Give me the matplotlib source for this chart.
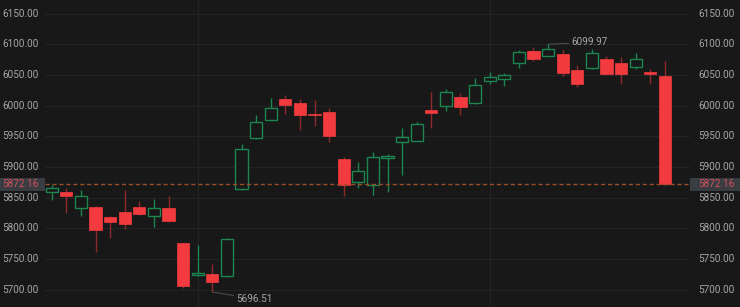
import matplotlib
matplotlib.use("Agg")
import matplotlib.pyplot as plt
from matplotlib.patches import Rectangle

# Candle data (index order left to right)
opens = [5859, 5859, 5833, 5835, 5818, 5827, 5835, 5820, 5833, 5777,
         5724, 5726, 5722, 5864, 5947, 5977, 6010, 6005, 5986, 5990,
         5913, 5875, 5871, 5915, 5941, 5943, 5993, 6000, 6014, 6004,
         6040, 6043, 6069, 6089, 6081, 6084, 6058, 6061, 6076, 6069,
         6063, 6054, 6048]
highs = [5871, 5866, 5863, 5837, 5820, 5863, 5844, 5848, 5852, 5777,
         5773, 5742, 5784, 5937, 5985, 6013, 6017, 6011, 6009, 5996,
         5917, 5908, 5924, 5921, 5964, 5974, 6022, 6027, 6020, 6045,
         6054, 6053, 6091, 6095, 6099.97, 6090, 6066, 6093, 6080, 6079,
         6086, 6059, 6073]
lows = [5847, 5825, 5821, 5762, 5784, 5799, 5822, 5802, 5810, 5703,
        5722, 5696.51, 5721, 5863, 5946, 5976, 5986, 5960, 5966, 5941,
        5852, 5865, 5855, 5860, 5887, 5942, 5964, 5992, 5985, 6003,
        6036, 6032, 6062, 6073, 6080, 6048, 6030, 6060, 6050, 6035,
        6059, 6036, 5870]
closes = [5866, 5853, 5852, 5797, 5810, 5807, 5823, 5833, 5812, 5706,
          5728, 5712, 5783, 5929, 5974, 5996, 6001, 5984, 5984, 5950,
          5870, 5894, 5917, 5918, 5949, 5970, 5988, 6022, 5998, 6033,
          6047, 6050, 6087, 6076, 6092, 6053, 6035, 6085, 6052, 6052,
          6076, 6051, 5872.16]
last_price = 5872.16
yticks = [5700, 5750, 5800, 5850, 5900, 5950, 6000, 6050, 6100, 6150]
vgrid_idx = [10, 30]
hi_label_idx = 34
lo_label_idx = 11

plt.rcParams['font.family'] = ['Roboto', 'DejaVu Sans']

BG = "#181818"
GRID = "#242426"
RED = "#f23b3f"
RED_WICK = "#8e2a2e"
GREEN = "#1d8550"
TXT = "#a4a6aa"
FS = 7.2

W, H = 740, 307
fig = plt.figure(figsize=(W / 100, H / 100), dpi=100, facecolor=BG)
ax = fig.add_axes([45 / W, 0, 645 / W, 1])
ax.set_facecolor(BG)
ax.set_xlim(-0.46, 43.72)
ax.set_ylim(5672, 6172)
for s in ax.spines.values():
    s.set_visible(False)
ax.set_xticks([])
ax.set_yticks([])

for v in yticks:
    ax.axhline(v, color=GRID, lw=0.8, zorder=0)
for i in vgrid_idx:
    ax.axvline(i, color=GRID, lw=0.8, zorder=0)

bw = 0.84
for i, (o, h, l, c) in enumerate(zip(opens, highs, lows, closes)):
    up = c >= o
    bot, top = min(o, c), max(o, c)
    if up:
        ax.vlines(i, l, bot, color=GREEN, lw=1, zorder=2)
        ax.vlines(i, top, h, color=GREEN, lw=1, zorder=2)
        ax.add_patch(Rectangle((i - bw / 2, bot), bw, max(top - bot, 0.8),
                               facecolor=BG, edgecolor=GREEN, lw=1, zorder=3))
    else:
        ax.vlines(i, l, h, color=RED_WICK, lw=1, zorder=2)
        ax.add_patch(Rectangle((i - bw / 2, bot), bw, max(top - bot, 1.5),
                               facecolor=RED, edgecolor=RED, lw=0.5, zorder=3))

ax.axhline(last_price, color="#9a4e28", lw=1, ls=(0, (3, 2)), zorder=4)

# high / low annotations
hi = highs[hi_label_idx]
ax.annotate(f"{hi:.2f}", xy=(hi_label_idx, hi), xytext=(hi_label_idx + 1.6, 6103),
            color=TXT, fontsize=FS, va="center", ha="left",
            arrowprops=dict(arrowstyle="-", color="#505257", lw=0.7,
                            shrinkA=0, shrinkB=0))
lo = lows[lo_label_idx]
ax.annotate(f"{lo:.2f}", xy=(lo_label_idx, lo), xytext=(lo_label_idx + 1.65, 5685),
            color=TXT, fontsize=FS, va="center", ha="left",
            arrowprops=dict(arrowstyle="-", color="#505257", lw=0.7,
                            shrinkA=0, shrinkB=0))

# axis labels on both sides
trans = ax.get_yaxis_transform()
for v in yticks:
    ax.text(-43 / 645, v, f"{v:.2f}", transform=trans, color=TXT, fontsize=FS,
            va="center", ha="left", clip_on=False)
    ax.text(1 + 8 / 645, v, f"{v:.2f}", transform=trans, color=TXT, fontsize=FS,
            va="center", ha="left", clip_on=False)

for x0, w in ((-45 / 645, 45 / 645), (1.0, 50 / 645)):
    ax.add_patch(Rectangle((x0, last_price - 10.5), w, 21,
                           transform=trans, facecolor="#393c41", edgecolor="none",
                           clip_on=False, zorder=5))
ax.text(-43 / 645, last_price, f"{last_price:.2f}", transform=trans, color="#d4505a",
        fontsize=FS, va="center", ha="left", clip_on=False, zorder=6)
ax.text(1 + 8 / 645, last_price, f"{last_price:.2f}", transform=trans, color="#d4505a",
        fontsize=FS, va="center", ha="left", clip_on=False, zorder=6)

fig.savefig("out.png", dpi=100, facecolor=BG)
